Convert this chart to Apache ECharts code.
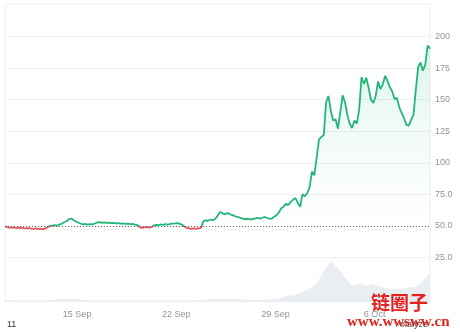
<!DOCTYPE html>
<html><head><meta charset="utf-8">
<script src="https://cdn.jsdelivr.net/npm/echarts@6/dist/echarts.min.js"></script>
<style>html,body{margin:0;padding:0;background:#fff}#c{width:460px;height:332px}</style>
</head><body><div id="c"></div>
<script>
// x values are "day of September" (1 Oct = 31)
const startDay = 9.909;
const priceStepHours = 4;
const prices = [
49.6,48.9,48.6,48.8,48.5,48.3,48.6,48.4,48.1,47.9,
48.2,47.8,47.6,47.9,47.5,47.7,47.4,47.8,48.9,49.9,
50.1,50.5,50.2,51.0,51.6,52.8,53.6,55.2,55.8,54.6,
53.4,52.6,51.8,51.2,51.6,51.0,51.4,51.1,51.8,52.6,
52.9,52.4,52.8,52.3,52.6,52.1,52.4,52.0,52.2,51.7,
52.0,51.6,51.8,51.4,51.5,51.0,50.6,49.2,48.4,48.7,
49.0,48.6,48.9,50.2,50.8,50.6,51.1,50.8,51.3,51.0,
51.5,51.7,51.9,52.2,51.6,50.9,49.4,48.3,48.0,47.6,
47.9,47.6,48.0,48.4,53.5,54.4,54.0,55.0,54.5,55.4,
57.8,60.8,60.2,59.0,60.1,59.6,58.6,58.0,57.2,56.8,
56.0,55.6,55.2,55.6,54.9,55.4,55.8,56.3,55.7,56.4,
57.0,56.2,55.6,55.8,57.2,58.4,60.6,64.0,65.2,67.4,
66.6,69.0,70.6,72.0,68.2,65.0,75.0,73.4,76.0,80.5,
93.0,90.0,104.0,118.5,120.5,122.0,148.0,153.0,141.0,133.5,
134.5,127.0,140.0,153.5,148.0,138.0,131.0,127.5,133.5,131.0,
142.0,168.0,162.5,167.5,159.5,150.0,147.5,153.0,164.5,158.5,
162.0,169.0,165.0,160.0,156.5,150.5,151.5,144.0,139.5,135.5,
130.0,129.5,134.0,138.0,158.0,176.0,179.5,173.0,178.0,193.0,
190.5
];
const volumeStepHours = 12;
const volumes = [
4,4,3,3,4,3,4,5,7,8,
7,5,4,4,4,3,4,3,3,4,
4,4,3,4,4,4,4,4,5,7,
8,8,7,7,5,5,5,5,7,11,
16,19,27,35,48,83,108,89,65,43,
48,43,48,40,35,35,35,38,40,56,
78
];
const xTickValues = [15, 22, 29, 36];
const xTickLabels = ['15 Sep', '22 Sep', '29 Sep', '6 Oct'];
const yTickValues = [25, 50, 75, 100, 125, 150, 175, 200];
const yTickLabels = ['25.0', '50.0', '75.0', '100', '125', '150', '175', '200'];

const baseline = prices[0];
const priceData = prices.map((p, i) => [startDay + i * priceStepHours / 24, p]);
const volumeData = volumes.map((v, i) => [startDay + i * volumeStepHours / 24, v]);
const endDay = priceData[priceData.length - 1][0];

const GREEN = '#22b679';
const RED = '#e0525c';
const H = 332;

const chart = echarts.init(document.getElementById('c'), null, {renderer: 'canvas'});
chart.setOption({
  animation: false,
  backgroundColor: '#ffffff',
  grid: {
    left: 5, right: 30, top: 4.3, bottom: 30.3,
    show: true, borderColor: '#eceef1', borderWidth: 1,
    containLabel: false, outerBoundsMode: 'none'
  },
  xAxis: {
    type: 'value', min: startDay, max: endDay,
    axisLine: {show: false},
    axisTick: {show: false, customValues: xTickValues},
    splitLine: {show: false},
    axisLabel: {
      customValues: xTickValues,
      formatter: v => xTickLabels[xTickValues.indexOf(v)] || '',
      color: '#8d939c', fontSize: 9, margin: 8,
      fontFamily: 'Liberation Sans, Arial, sans-serif'
    }
  },
  yAxis: [{
    type: 'value', position: 'right', min: -10.2, max: 225.7,
    axisLine: {show: false},
    axisTick: {show: false, customValues: yTickValues},
    splitLine: {show: true, lineStyle: {color: '#eef0f3', width: 1}},
    axisLabel: {
      customValues: yTickValues,
      formatter: v => yTickLabels[yTickValues.indexOf(v)] || '',
      color: '#8d939c', fontSize: 9, margin: 5,
      fontFamily: 'Liberation Sans, Arial, sans-serif'
    }
  }, {
    type: 'value', min: 0, max: 800, show: false,
    splitLine: {show: false}
  }],
  series: [{
    id: 'vol', type: 'line', yAxisIndex: 1, data: volumeData, symbol: 'none',
    z: 1, lineStyle: {width: 0},
    areaStyle: {color: '#eaedf2', opacity: 1},
    silent: true
  }, {
    id: 'price', type: 'line', yAxisIndex: 0, data: priceData, symbol: 'none', z: 3,
    lineStyle: {width: 1.8, color: GREEN},
    markLine: {
      silent: true, symbol: 'none',
      label: {show: false},
      lineStyle: {color: '#666', type: [1, 2], width: 1},
      data: [{yAxis: baseline}]
    }
  }],
  graphic: [
    {type: 'text', left: 7, top: 320, z: 10,
     style: {text: '11', fill: '#333', font: '9px Liberation Sans, Arial, sans-serif'}},
    {type: 'text', left: 396, top: 320, z: 10,
     style: {text: 'Analyze', fill: '#444', font: '9px Liberation Sans, Arial, sans-serif'}},
    {type: 'text', left: 371, top: 293, z: 20,
     style: {text: '链圈子', fill: '#e3211f', font: 'bold 19px "Noto Sans CJK SC", sans-serif'}},
    {type: 'text', left: 347, top: 315, z: 20,
     style: {text: 'www.wwsww.cn', fill: '#e3211f', font: 'bold 15px "Liberation Serif", serif'}}
  ]
});

// colour split at the baseline, positioned through the axis scale
const by = chart.convertToPixel({yAxisIndex: 0}, baseline);
const topY = chart.convertToPixel({yAxisIndex: 0}, 225.7);
const f = by / H;
chart.setOption({
  series: [{
    id: 'price',
    lineStyle: {
      color: new echarts.graphic.LinearGradient(0, 0, 0, H, [
        {offset: 0, color: GREEN},
        {offset: f, color: GREEN},
        {offset: f, color: RED},
        {offset: 1, color: RED}
      ], true)
    },
    areaStyle: {
      origin: 'start',
      color: new echarts.graphic.LinearGradient(0, topY, 0, by, [
        {offset: 0, color: 'rgba(34,182,121,0.28)'},
        {offset: 0.55, color: 'rgba(34,182,121,0.09)'},
        {offset: 1, color: 'rgba(34,182,121,0.0)'}
      ], true)
    }
  }]
});
</script>
</body></html>
